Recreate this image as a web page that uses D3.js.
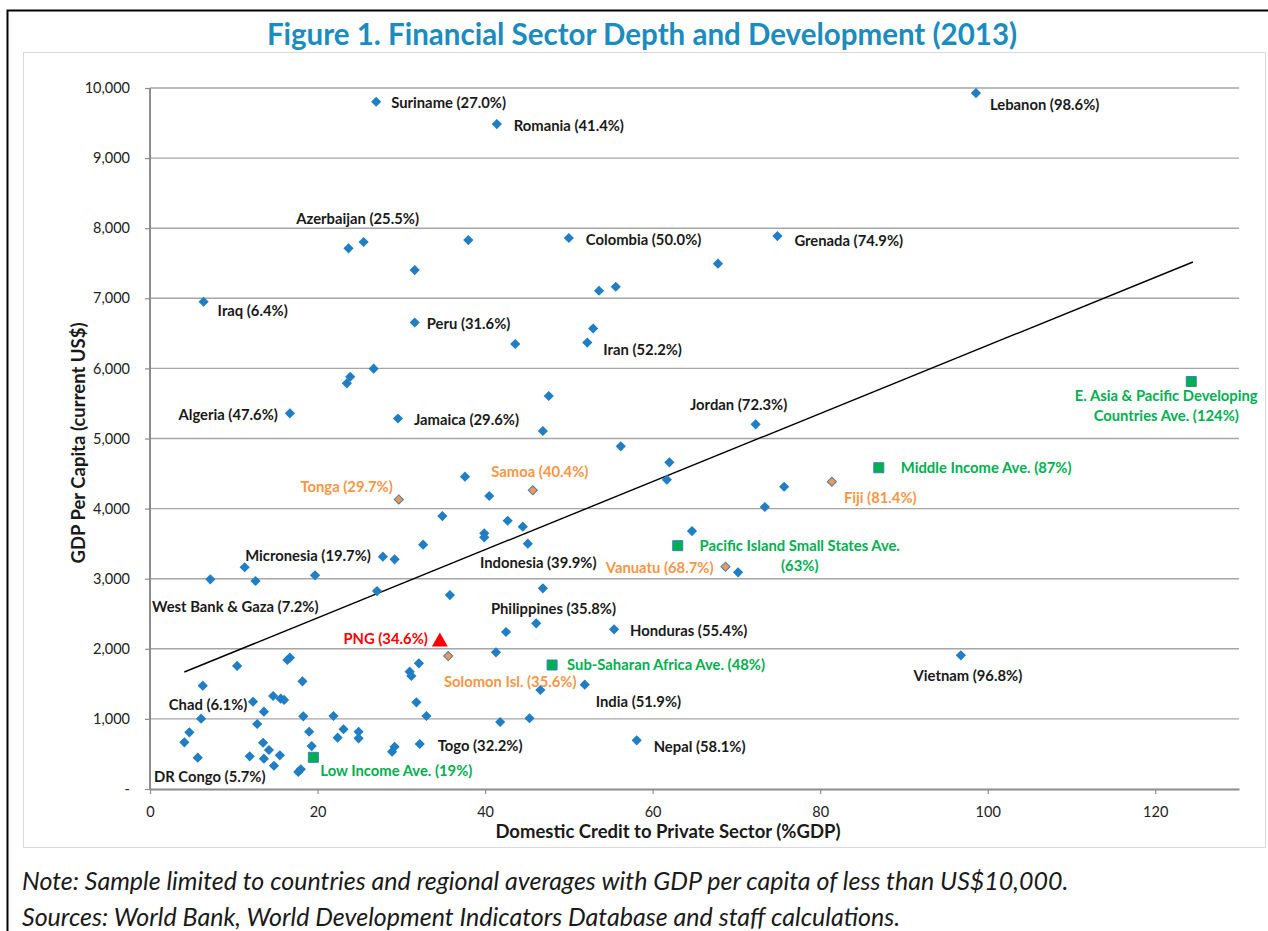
<!DOCTYPE html>
<html>
<head>
<meta charset="utf-8">
<script src="https://cdn.jsdelivr.net/npm/d3@7"></script>
<style>
  body { margin: 0; background: #fff; }
  svg text { font-family: Lato, "Open Sans", sans-serif; }
</style>
</head>
<body>
<svg id="chart" width="1268" height="931"></svg>
<script>
// ---- data ----
// label text, credit to private sector (%GDP), GDP per capita (US$), marker group
var names = [
  "Suriname (27.0%)", "Romania (41.4%)", "Lebanon (98.6%)", "Azerbaijan (25.5%)", "Colombia (50.0%)",
  "Grenada (74.9%)", "Iraq (6.4%)", "Peru (31.6%)", "Iran (52.2%)", "Algeria (47.6%)",
  "Jamaica (29.6%)", "Jordan (72.3%)", "Indonesia (39.9%)", "Philippines (35.8%)", "Honduras (55.4%)",
  "Micronesia (19.7%)", "West Bank & Gaza (7.2%)", "Vietnam (96.8%)", "India (51.9%)", "Chad (6.1%)",
  "Togo (32.2%)", "Nepal (58.1%)", "DR Congo (5.7%)",
  "Samoa (40.4%)", "Tonga (29.7%)", "Fiji (81.4%)", "Vanuatu (68.7%)", "Solomon Isl. (35.6%)",
  "PNG (34.6%)",
  "Low Income Ave. (19%)", "Sub-Saharan Africa Ave. (48%)", "Pacific Island Small States Ave.\n(63%)",
  "Middle Income Ave. (87%)", "E. Asia & Pacific Developing\nCountries Ave. (124%)"
];
var credit = [
  27.0, 41.4, 98.6, 25.5, 50.0, 74.9, 6.4, 31.6, 52.2, 16.7,
  29.6, 72.3, 39.9, 35.8, 55.4, 19.7, 7.2, 96.8, 51.9, 6.1,
  32.2, 58.1, 5.7,
  45.7, 29.7, 81.4, 68.7, 35.6,
  34.6,
  19.5, 48.0, 63.0, 87.0, 124.3
];
var gdp = [
  9804, 9486, 9928, 7803, 7860, 7888, 6951, 6655, 6369, 5359,
  5285, 5202, 3590, 2767, 2278, 3048, 2991, 1907, 1488, 1003,
  642, 695, 447,
  4261, 4130, 4384, 3171, 1897,
  2100,
  452, 1769, 3471, 4583, 5813
];
var group = [
  "c","c","c","c","c","c","c","c","c","c",
  "c","c","c","c","c","c","c","c","c","c",
  "c","c","c",
  "pac","pac","pac","pac","pac",
  "png",
  "avg","avg","avg","avg","avg"
];

// unlabeled countries
var otherCredit = [
  23.7, 38.0, 31.6, 67.8, 53.6, 55.6, 52.9, 43.6, 26.7, 23.9,
  23.5, 47.6, 46.9, 56.2, 62.0, 61.7, 37.6, 40.5, 34.9, 42.7,
  44.5, 39.9, 45.1, 32.6, 27.8, 29.2, 11.3, 12.6, 27.1, 46.9,
  46.1, 42.5, 64.7, 73.4, 75.7, 70.2, 41.3, 32.1, 31.0, 31.2,
  46.6, 31.8, 33.0, 41.8, 45.3, 21.9, 23.1, 22.4, 24.9, 24.9,
  29.2, 28.9, 16.7, 16.4, 10.4, 18.2, 12.3, 14.7, 15.6, 16.0,
  13.6, 6.3, 18.3, 12.8, 4.7, 4.1, 19.0, 19.3, 13.5, 14.2,
  11.9, 13.6, 15.5, 14.8, 18.0, 17.7
];
var otherGdp = [
  7713, 7831, 7403, 7494, 7108, 7165, 6569, 6348, 5996, 5881,
  5787, 5606, 5107, 4889, 4660, 4412, 4455, 4180, 3894, 3827,
  3742, 3648, 3499, 3485, 3314, 3277, 3163, 2967, 2824, 2863,
  2364, 2240, 3680, 4023, 4312, 3091, 1950, 1793, 1673, 1612,
  1412, 1237, 1041, 956, 1009, 1041, 852, 732, 817, 723,
  603, 532, 1873, 1840, 1755, 1536, 1245, 1327, 1288, 1270,
  1103, 1474, 1037, 927, 809, 666, 817, 613, 660, 556,
  466, 432, 481, 332, 281, 243
];

// linear trend line end points
var trendX = [4.1, 124.5];
var trendY = [1669, 7518];

var xTicks = [0, 20, 40, 60, 80, 100, 120];
var yTicks = d3.range(0, 10001, 1000);

// ---- label placement (dx, dy from marker, anchor) ----
var labelPos = {
  "Suriname (27.0%)": [15, 0, "start"],
  "Romania (41.4%)": [17, 1, "start"],
  "Lebanon (98.6%)": [14, 11, "start"],
  "Azerbaijan (25.5%)": [-6, -24, "middle"],
  "Colombia (50.0%)": [17, 1, "start"],
  "Grenada (74.9%)": [17, 4, "start"],
  "Iraq (6.4%)": [14, 8, "start"],
  "Peru (31.6%)": [12, 1, "start"],
  "Iran (52.2%)": [16, 6, "start"],
  "Algeria (47.6%)": [-12, 1, "end"],
  "Jamaica (29.6%)": [16, 0, "start"],
  "Jordan (72.3%)": [-17, -20, "middle"],
  "Indonesia (39.9%)": [54, 25, "middle"],
  "Philippines (35.8%)": [41, 13, "start"],
  "Honduras (55.4%)": [16, 1, "start"],
  "Micronesia (19.7%)": [-7, -20, "middle"],
  "West Bank & Gaza (7.2%)": [25, 27, "middle"],
  "Vietnam (96.8%)": [7, 20, "middle"],
  "India (51.9%)": [11, 16, "start"],
  "Chad (6.1%)": [7, -15, "middle"],
  "Togo (32.2%)": [18, 1, "start"],
  "Nepal (58.1%)": [17, 6, "start"],
  "DR Congo (5.7%)": [12, 18, "middle"],
  "Samoa (40.4%)": [7, -19, "middle"],
  "Tonga (29.7%)": [-6, -13, "end"],
  "Fiji (81.4%)": [12, 15, "start"],
  "Vanuatu (68.7%)": [-12, 0, "end"],
  "Solomon Isl. (35.6%)": [62, 25, "middle"],
  "PNG (34.6%)": [-12, -4, "end"],
  "Low Income Ave. (19%)": [7, 13, "start"],
  "Sub-Saharan Africa Ave. (48%)": [15, -1, "start"],
  "Pacific Island Small States Ave.\n(63%)": [122, -1, "middle"],
  "Middle Income Ave. (87%)": [22, -1, "start"],
  "E. Asia & Pacific Developing\nCountries Ave. (124%)": [-25, 13, "middle"]
};

var BLUE = "#1f7ec4", ORANGE = "#f79646", GREEN = "#00b050", RED = "#ff0000";
var labelColor = { c: "#1a1a1a", pac: ORANGE, png: RED, avg: GREEN };

var svg = d3.select("#chart");

// outer frame + chart area box
svg.append("rect").attr("x", 7.5).attr("y", 10.5).attr("width", 1270).attr("height", 930)
  .attr("fill", "none").attr("stroke", "#000").attr("stroke-width", 2);
svg.append("rect").attr("x", 23.5).attr("y", 52.5).attr("width", 1242).attr("height", 795)
  .attr("fill", "#fff").attr("stroke", "#d9d9d9").attr("stroke-width", 1);

svg.append("text")
  .attr("x", 642).attr("y", 33)
  .attr("text-anchor", "middle").attr("dominant-baseline", "central")
  .style("font-size", "29.5px").style("font-weight", "bold")
  .attr("fill", "#1a8cbf")
  .text("Figure 1. Financial Sector Depth and Development (2013)");

var x = d3.scaleLinear().domain([0, 130]).range([150, 1239]);
var y = d3.scaleLinear().domain([0, 10000]).range([789, 88]);

// gridlines
svg.append("g").selectAll("line").data(yTicks.slice(1)).join("line")
  .attr("x1", x(0)).attr("x2", x(130))
  .attr("y1", function (d) { return y(d); }).attr("y2", function (d) { return y(d); })
  .attr("stroke", "#a6a6a6").attr("stroke-width", 1.4);

// axes
var yAxis = svg.append("g").attr("transform", "translate(" + x(0) + ",0)")
  .call(d3.axisLeft(y).tickValues(yTicks).tickSize(5).tickPadding(15)
    .tickFormat(function (d) { return d === 0 ? "-" : d3.format(",")(d); }));
var xAxis = svg.append("g").attr("transform", "translate(0," + y(0) + ")")
  .call(d3.axisBottom(x).tickValues(xTicks).tickSize(5).tickPadding(13).tickSizeOuter(0));
[xAxis, yAxis].forEach(function (g) {
  g.select(".domain").attr("stroke", "#8c8c8c").attr("stroke-width", 2);
  g.selectAll(".tick line").attr("stroke", "#8c8c8c").attr("stroke-width", 1.2);
  g.selectAll("text").style("font-family", "Lato, sans-serif").style("font-size", "14.5px").attr("fill", "#222");
});
yAxis.select(".domain").attr("d", "M0," + y(10000) + "V" + y(0));

svg.append("text")
  .attr("transform", "translate(78,443) rotate(-90)")
  .attr("text-anchor", "middle").attr("dominant-baseline", "central")
  .style("font-size", "18.5px").style("font-weight", "bold").attr("fill", "#1a1a1a")
  .text("GDP Per Capita (current US$)");
svg.append("text")
  .attr("x", 668).attr("y", 831)
  .attr("text-anchor", "middle").attr("dominant-baseline", "central")
  .style("font-size", "18.5px").style("font-weight", "bold").attr("fill", "#1a1a1a")
  .text("Domestic Credit to Private Sector (%GDP)");

// trend line
var trend = trendX.map(function (v, i) { return [v, trendY[i]]; });
svg.append("path").datum(trend)
  .attr("d", d3.line().x(function (d) { return x(d[0]); }).y(function (d) { return y(d[1]); }))
  .attr("stroke", "#000").attr("stroke-width", 1.4).attr("fill", "none");

// unlabeled points
var diamond = d3.symbol().type(d3.symbolSquare).size(52);
var others = otherCredit.map(function (v, i) { return { x: v, y: otherGdp[i] }; });
svg.append("g").selectAll("path").data(others).join("path")
  .attr("d", diamond)
  .attr("transform", function (d) { return "translate(" + x(d.x) + "," + y(d.y) + ") rotate(45)"; })
  .attr("fill", BLUE);

// labeled points
var pts = names.map(function (n, i) { return { name: n, x: credit[i], y: gdp[i], g: group[i] }; });
svg.append("g").selectAll("path").data(pts).join("path")
  .attr("transform", function (d) {
    return "translate(" + x(d.x) + "," + y(d.y) + ")" + (d.g === "c" || d.g === "pac" ? " rotate(45)" : "");
  })
  .attr("d", function (d) {
    if (d.g === "png") return d3.symbol().type(d3.symbolTriangle).size(110)();
    if (d.g === "avg") return d3.symbol().type(d3.symbolSquare).size(100)();
    if (d.g === "pac") return d3.symbol().type(d3.symbolSquare).size(42)();
    return diamond();
  })
  .attr("fill", function (d) {
    return d.g === "c" ? BLUE : d.g === "pac" ? ORANGE : d.g === "png" ? RED : GREEN;
  })
  .attr("stroke", function (d) { return d.g === "pac" || d.g === "avg" ? "#3a7fc0" : "none"; })
  .attr("stroke-width", 1);

// data labels
var lab = svg.append("g").selectAll("text").data(pts).join("text")
  .attr("text-anchor", function (d) { return labelPos[d.name][2]; })
  .style("font-size", "14.8px").style("font-weight", "bold")
  .attr("fill", function (d) { return labelColor[d.g]; });
lab.each(function (d) {
  var p = labelPos[d.name], el = d3.select(this);
  d.name.split("\n").forEach(function (line, k) {
    el.append("tspan")
      .attr("x", x(d.x) + p[0])
      .attr("y", y(d.y) + p[1] + k * 20)
      .attr("dominant-baseline", "central")
      .text(line);
  });
});

// footnotes
var notes = [
  "Note: Sample limited to countries and regional averages with GDP per capita of less than US$10,000.",
  "Sources: World Bank, World Development Indicators Database and staff calculations."
];
svg.append("g").selectAll("text").data(notes).join("text")
  .attr("x", 22).attr("y", function (d, i) { return 880 + i * 36; })
  .attr("dominant-baseline", "central")
  .style("font-size", "25px").style("font-style", "italic").attr("fill", "#1a1a1a")
  .text(function (d) { return d; });
</script>
</body>
</html>
